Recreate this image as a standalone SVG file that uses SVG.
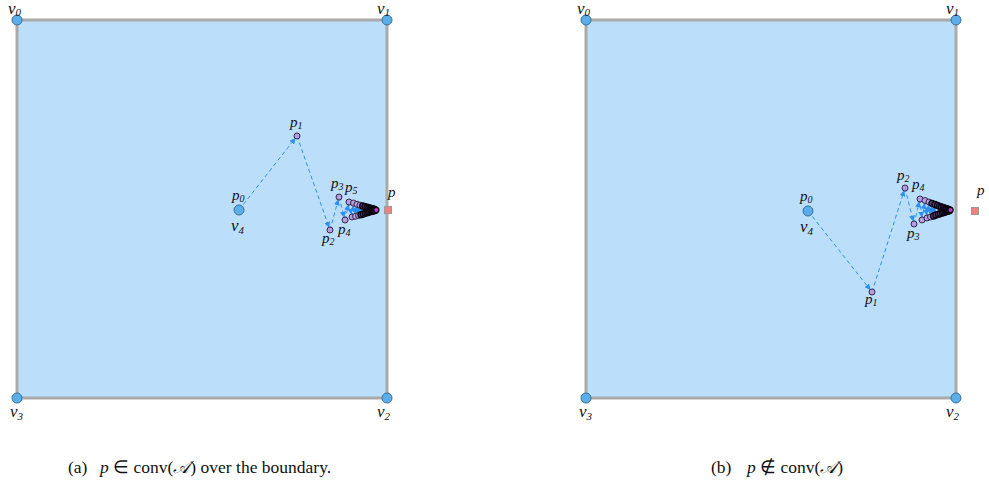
<svg xmlns="http://www.w3.org/2000/svg" width="989" height="487" viewBox="0 0 989 487">
<defs>
<style>
.sq{fill:#bbdefb;stroke:#aaaaaa;stroke-width:3}
.vx{fill:#5aaeea;stroke:#3a6f9a;stroke-width:1}
.pt{fill:#b49de0;stroke:#2a1a38;stroke-width:0.9}
.pd{fill:#5e437e;stroke:#0a0510;stroke-width:1.3}
.lim{fill:#c23ac8;stroke:#000;stroke-width:1.2}
.ps{fill:#f08080;stroke:#999;stroke-width:1}
.ar{fill:none;stroke:#2d8ff0;stroke-width:1;stroke-dasharray:4 3;marker-end:url(#ah)}
.lb{font-family:"Liberation Serif",serif;font-style:italic;font-size:15px;fill:#111}
.lb tspan{font-size:10px}
.vl{font-family:"Liberation Serif",serif;font-style:italic;font-size:17px;fill:#111}
.vl tspan{font-size:11px}
.cap{font-family:"Liberation Serif",serif;font-size:17.5px;fill:#111}
</style>
<marker id="ah" viewBox="0 0 10 10" refX="14" refY="5" markerWidth="6" markerHeight="6" orient="auto" markerUnits="userSpaceOnUse">
<path d="M0,0 L10,5 L0,10 z" fill="#2d8ff0"/>
</marker>
</defs>

<g id="panel-a">
<g id="square-a"><rect class="sq" x="17" y="20" width="370" height="378"/></g>
<g id="connectors-a">
<line class="ar" x1="239" y1="210" x2="297" y2="136"/>
<line class="ar" x1="297" y1="136" x2="330" y2="230"/>
<line class="ar" x1="330" y1="230" x2="339" y2="197"/>
<line class="ar" x1="339" y1="197" x2="345" y2="220"/>
<line class="ar" x1="345" y1="220" x2="349" y2="202"/>
<line class="ar" x1="349" y1="202" x2="352" y2="217"/>
<line class="ar" x1="352" y1="217" x2="353.5" y2="203"/>
<line class="ar" x1="353.5" y1="203" x2="355.5" y2="216.3"/>
<line class="ar" x1="355.5" y1="216.3" x2="357" y2="204.3"/>
<line class="ar" x1="357" y1="204.3" x2="358.5" y2="215.5"/>
<line class="ar" x1="358.5" y1="215.5" x2="360" y2="205.2"/>
<line class="ar" x1="360" y1="205.2" x2="361" y2="214.7"/>
<line class="ar" x1="361" y1="214.7" x2="362.7" y2="206"/>
</g>
<g id="v0-a"><circle class="vx" cx="17" cy="20" r="5"/><text class="vl" x="8" y="14">v<tspan dy="2">0</tspan></text></g>
<g id="v1-a"><circle class="vx" cx="387" cy="20" r="5"/><text class="vl" x="377" y="14">v<tspan dy="2">1</tspan></text></g>
<g id="v2-a"><circle class="vx" cx="387" cy="398" r="5"/><text class="vl" x="377" y="417">v<tspan dy="3">2</tspan></text></g>
<g id="v3-a"><circle class="vx" cx="17" cy="398" r="5"/><text class="vl" x="10" y="417">v<tspan dy="3">3</tspan></text></g>
<g id="p0-a"><circle class="vx" cx="239" cy="210" r="5"/><text class="lb" x="232" y="200">p<tspan dy="2">0</tspan></text><text class="vl" x="231" y="231">v<tspan dy="3">4</tspan></text></g>
<g id="p1-a"><circle class="pt" cx="297" cy="136" r="3"/><text class="lb" x="290" y="127">p<tspan dy="2">1</tspan></text></g>
<g id="p2-a"><circle class="pt" cx="330" cy="230" r="3"/><text class="lb" x="322" y="243">p<tspan dy="2">2</tspan></text></g>
<g id="p3-a"><circle class="pt" cx="339" cy="197" r="3"/><text class="lb" x="331" y="188">p<tspan dy="2">3</tspan></text></g>
<g id="p4-a"><circle class="pt" cx="345" cy="220" r="3"/><text class="lb" x="338" y="234">p<tspan dy="2">4</tspan></text></g>
<g id="p5-a"><circle class="pt" cx="349" cy="202" r="3"/><text class="lb" x="345" y="192">p<tspan dy="2">5</tspan></text></g>
<g id="seq-a">
<circle class="pt" cx="352" cy="217" r="3"/>
<circle class="pt" cx="353.5" cy="203" r="3"/>
<circle class="pt" cx="355.5" cy="216.3" r="3"/>
<circle class="pt" cx="357" cy="204.3" r="3"/>
<circle class="pt" cx="358.5" cy="215.5" r="3"/>
<circle class="pt" cx="360" cy="205.2" r="3"/>
<circle class="pd" cx="361" cy="214.7" r="3"/>
<circle class="pd" cx="362.7" cy="206" r="3"/>
<circle class="pd" cx="363.3" cy="214" r="3"/>
<circle class="pd" cx="365" cy="206.6" r="3"/>
<circle class="pd" cx="365.3" cy="213.3" r="3"/>
<circle class="pd" cx="367" cy="207.2" r="3"/>
<circle class="pd" cx="367" cy="212.7" r="3"/>
<circle class="pd" cx="368.7" cy="207.7" r="3"/>
<circle class="pd" cx="368.5" cy="212.2" r="3"/>
<circle class="pd" cx="370" cy="208.1" r="3"/>
<circle class="pd" cx="369.8" cy="211.8" r="3"/>
<circle class="pd" cx="371.2" cy="208.4" r="3"/>
<circle class="pd" cx="371" cy="211.4" r="3"/>
<circle class="pd" cx="372.2" cy="208.7" r="3"/>
<circle class="pd" cx="372" cy="211.1" r="3"/>
<circle class="pd" cx="373.1" cy="209" r="3"/>
<circle class="pd" cx="372.9" cy="210.9" r="3"/>
<circle class="pd" cx="373.8" cy="209.2" r="3"/>
<circle class="pd" cx="373.7" cy="210.7" r="3"/>
<circle class="pd" cx="374.5" cy="209.4" r="3"/>
<circle class="pd" cx="374.4" cy="210.5" r="3"/>
<circle class="pd" cx="375" cy="209.6" r="3"/>
<circle class="pd" cx="375" cy="210.4" r="3"/>
<circle class="lim" cx="376.3" cy="210" r="2.6"/>
</g>
<g id="target-a"><rect class="ps" x="384.5" y="206.5" width="7" height="7"/><text class="lb" x="388" y="197">p</text></g>
<text class="cap" x="68" y="473">(a)</text>
<text class="cap" x="100" y="473"><tspan font-style="italic">p</tspan> ∈ conv(<tspan font-style="italic">𝒜</tspan>) over the boundary.</text>
</g>

<g id="panel-b">
<g id="square-b"><rect class="sq" x="586" y="20" width="370" height="378"/></g>
<g id="connectors-b">
<line class="ar" x1="808" y1="211" x2="872" y2="292"/>
<line class="ar" x1="872" y1="292" x2="905" y2="188"/>
<line class="ar" x1="905" y1="188" x2="914" y2="224"/>
<line class="ar" x1="914" y1="224" x2="920" y2="199"/>
<line class="ar" x1="920" y1="199" x2="922" y2="220"/>
<line class="ar" x1="922" y1="220" x2="925" y2="200.5"/>
<line class="ar" x1="925" y1="200.5" x2="927" y2="218"/>
<line class="ar" x1="927" y1="218" x2="929" y2="202"/>
<line class="ar" x1="929" y1="202" x2="930.5" y2="217"/>
<line class="ar" x1="930.5" y1="217" x2="932" y2="203.3"/>
<line class="ar" x1="932" y1="203.3" x2="933.5" y2="216"/>
<line class="ar" x1="933.5" y1="216" x2="935" y2="204.5"/>
</g>
<g id="v0-b"><circle class="vx" cx="586" cy="20" r="5"/><text class="vl" x="577" y="14">v<tspan dy="2">0</tspan></text></g>
<g id="v1-b"><circle class="vx" cx="956" cy="20" r="5"/><text class="vl" x="946" y="14">v<tspan dy="2">1</tspan></text></g>
<g id="v2-b"><circle class="vx" cx="956" cy="398" r="5"/><text class="vl" x="946" y="417">v<tspan dy="3">2</tspan></text></g>
<g id="v3-b"><circle class="vx" cx="586" cy="398" r="5"/><text class="vl" x="579" y="417">v<tspan dy="3">3</tspan></text></g>
<g id="p0-b"><circle class="vx" cx="808" cy="211" r="5"/><text class="lb" x="800" y="201">p<tspan dy="2">0</tspan></text><text class="vl" x="800" y="232">v<tspan dy="3">4</tspan></text></g>
<g id="p1-b"><circle class="pt" cx="872" cy="292" r="3"/><text class="lb" x="865" y="304">p<tspan dy="2">1</tspan></text></g>
<g id="p2-b"><circle class="pt" cx="905" cy="188" r="3"/><text class="lb" x="897" y="180">p<tspan dy="2">2</tspan></text></g>
<g id="p3-b"><circle class="pt" cx="914" cy="224" r="3"/><text class="lb" x="907" y="238">p<tspan dy="2">3</tspan></text></g>
<g id="p4-b"><circle class="pt" cx="920" cy="199" r="3"/><text class="lb" x="912" y="189">p<tspan dy="2">4</tspan></text></g>
<g id="seq-b">
<circle class="pt" cx="922" cy="220" r="3"/>
<circle class="pt" cx="925" cy="200.5" r="3"/>
<circle class="pt" cx="927" cy="218" r="3"/>
<circle class="pt" cx="929" cy="202" r="3"/>
<circle class="pt" cx="930.5" cy="217" r="3"/>
<circle class="pd" cx="932" cy="203.3" r="3"/>
<circle class="pd" cx="933.5" cy="216" r="3"/>
<circle class="pd" cx="935" cy="204.5" r="3"/>
<circle class="pd" cx="936" cy="215" r="3"/>
<circle class="pd" cx="937.5" cy="205.5" r="3"/>
<circle class="pd" cx="938.5" cy="214.2" r="3"/>
<circle class="pd" cx="939.7" cy="206.3" r="3"/>
<circle class="pd" cx="940.5" cy="213.5" r="3"/>
<circle class="pd" cx="941.5" cy="207" r="3"/>
<circle class="pd" cx="942.3" cy="212.9" r="3"/>
<circle class="pd" cx="943.2" cy="207.6" r="3"/>
<circle class="pd" cx="943.8" cy="212.4" r="3"/>
<circle class="pd" cx="944.6" cy="208.1" r="3"/>
<circle class="pd" cx="945.2" cy="211.9" r="3"/>
<circle class="pd" cx="945.8" cy="208.5" r="3"/>
<circle class="pd" cx="946.3" cy="211.6" r="3"/>
<circle class="pd" cx="946.8" cy="208.9" r="3"/>
<circle class="pd" cx="947.3" cy="211.3" r="3"/>
<circle class="pd" cx="947.7" cy="209.2" r="3"/>
<circle class="pd" cx="948.1" cy="211" r="3"/>
<circle class="pd" cx="948.5" cy="209.4" r="3"/>
<circle class="pd" cx="948.8" cy="210.8" r="3"/>
<circle class="pd" cx="949.2" cy="209.6" r="3"/>
<circle class="pd" cx="949.5" cy="210.5" r="3"/>
<circle class="lim" cx="950.5" cy="210" r="2.6"/>
</g>
<g id="target-b"><rect class="ps" x="971.5" y="207.5" width="7" height="7"/><text class="lb" x="977" y="195">p</text></g>
<text class="cap" x="711" y="473">(b)</text>
<text class="cap" x="747" y="473"><tspan font-style="italic">p</tspan> ∉ conv(<tspan font-style="italic">𝒜</tspan>)</text>
</g>
</svg>
